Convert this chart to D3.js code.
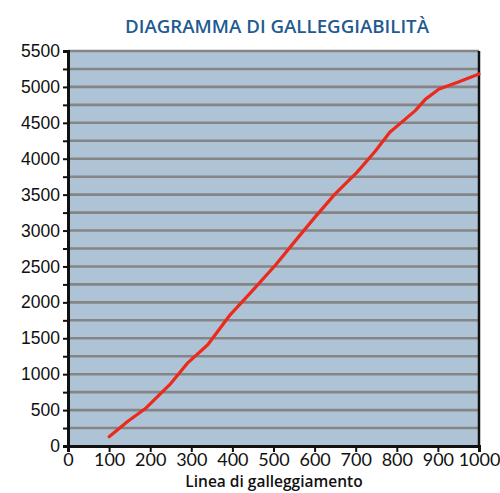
<!DOCTYPE html>
<html lang="it">
<head>
<meta charset="UTF-8">
<title>Diagramma di galleggiabilità</title>
<script src="https://cdn.jsdelivr.net/npm/d3@7"></script>
<style>
    body { margin: 0; background: #fff; }
    svg { display: block; }
</style>
</head>
<body>
<script>
    // data
    const waterline = [100, 145, 190, 250, 290, 340, 395, 450, 505, 555, 600, 650, 703, 747, 783, 845, 870, 903, 950, 1000];
    const load = [130, 340, 530, 870, 1150, 1410, 1830, 2170, 2520, 2870, 3180, 3510, 3810, 4100, 4370, 4670, 4830, 4970, 5070, 5180];
    const xTicks = [0, 100, 200, 300, 400, 500, 600, 700, 800, 900, 1000];
    const yTicks = [0, 500, 1000, 1500, 2000, 2500, 3000, 3500, 4000, 4500, 5000, 5500];
    const gridValues = d3.range(250, 5501, 250);

    const width = 500, height = 493;
    const margin = { top: 51, right: 21, bottom: 47, left: 68 };
    const innerW = width - margin.left - margin.right;
    const innerH = height - margin.top - margin.bottom;

    const svg = d3.select("body").append("svg")
        .attr("width", width).attr("height", height);

    svg.append("text")
        .attr("x", 277).attr("y", 33)
        .attr("text-anchor", "middle")
        .attr("font-family", "'Open Sans', 'DejaVu Sans', sans-serif")
        .attr("font-weight", 600)
        .attr("font-size", 18.5)
        .attr("fill", "#1f5b91")
        .attr("textLength", 304)
        .attr("lengthAdjust", "spacingAndGlyphs")
        .text("DIAGRAMMA DI GALLEGGIABILITÀ");

    const g = svg.append("g").attr("transform", `translate(${margin.left},${margin.top})`);

    const x = d3.scaleLinear().domain([0, 1000]).range([0, innerW]);
    const y = d3.scaleLinear().domain([0, 5500]).range([innerH, 0]);

    g.append("rect")
        .attr("width", innerW).attr("height", innerH)
        .attr("fill", "#afc3d7");

    g.append("g").selectAll("line")
        .data(gridValues)
        .join("line")
        .attr("x1", 0).attr("x2", innerW)
        .attr("y1", d => y(d)).attr("y2", d => y(d))
        .attr("stroke", "#858585")
        .attr("stroke-width", 2.6);

    // right border
    g.append("line")
        .attr("x1", innerW).attr("x2", innerW)
        .attr("y1", 0).attr("y2", innerH)
        .attr("stroke", "#111").attr("stroke-width", 2.5);

    const line = d3.line()
        .x((d, i) => x(waterline[i]))
        .y(d => y(d));

    g.append("path")
        .datum(load)
        .attr("d", line)
        .attr("fill", "none")
        .attr("stroke", "#ec2a1c")
        .attr("stroke-width", 3.2)
        .attr("stroke-linejoin", "round")
        .attr("stroke-linecap", "round");

    // y axis: minor ticks every 250, labels every 500
    const yAxis = g.append("g")
        .call(d3.axisLeft(y).tickValues(d3.range(0, 5501, 250)).tickSize(5).tickPadding(3)
            .tickFormat(d => yTicks.includes(d) ? d : ""));
    yAxis.select(".domain").attr("stroke", "#111").attr("stroke-width", 3);
    yAxis.selectAll(".tick line").attr("stroke", "#111").attr("stroke-width", 2);
    yAxis.selectAll(".tick text")
        .attr("font-family", "'Liberation Sans', Arial, sans-serif")
        .attr("font-size", 17.5).attr("fill", "#111");

    const xAxis = g.append("g")
        .attr("transform", `translate(0,${innerH})`)
        .call(d3.axisBottom(x).tickValues(xTicks).tickFormat(d3.format("d")).tickSize(6).tickPadding(1));
    xAxis.select(".domain").attr("stroke", "#111").attr("stroke-width", 3);
    xAxis.selectAll(".tick line").attr("stroke", "#111").attr("stroke-width", 2);
    xAxis.selectAll(".tick text")
        .attr("font-family", "Lato, 'Liberation Sans', sans-serif")
        .attr("font-size", 18).attr("fill", "#111");

    svg.append("text")
        .attr("x", 274).attr("y", 487)
        .attr("text-anchor", "middle")
        .attr("font-family", "'Open Sans', 'DejaVu Sans', sans-serif")
        .attr("font-weight", 600)
        .attr("font-size", 15.5)
        .attr("fill", "#111")
        .text("Linea di galleggiamento");
</script>
</body>
</html>
